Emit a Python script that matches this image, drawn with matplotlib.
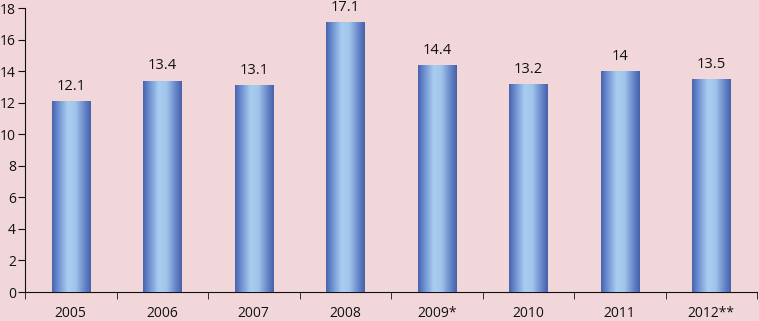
import numpy as np
import matplotlib
matplotlib.use("Agg")
import matplotlib.pyplot as plt
from matplotlib.colors import LinearSegmentedColormap

# data
years = ["2005", "2006", "2007", "2008", "2009*", "2010", "2011", "2012**"]
values = [12.1, 13.4, 13.1, 17.1, 14.4, 13.2, 14, 13.5]
labels = ["12.1", "13.4", "13.1", "17.1", "14.4", "13.2", "14", "13.5"]

bg = "#f1d7d9"
plt.rcParams["font.family"] = ["Open Sans", "DejaVu Sans"]

fig = plt.figure(figsize=(7.59, 3.21), dpi=100, facecolor=bg)
ax = fig.add_axes([25 / 759, 29 / 321, 732 / 759, 284 / 321], facecolor=bg)

x = np.arange(len(years))
bars = ax.bar(x, values, width=0.42, color="none", edgecolor="none", zorder=2)

# cylinder-ish horizontal gradient on each bar
cmap = LinearSegmentedColormap.from_list(
    "cyl", [(0, "#4862ab"), (0.15, "#6a8dcf"), (0.4, "#a9cdef"),
            (0.6, "#a2c6eb"), (0.85, "#6383c7"), (1, "#4660a8")])
grad = np.linspace(0, 1, 256).reshape(1, -1)
for b in bars:
    x0, w, h = b.get_x(), b.get_width(), b.get_height()
    im = ax.imshow(grad, cmap=cmap, aspect="auto", extent=[x0, x0 + w, 0, h],
                   zorder=3, interpolation="bicubic")
    im.set_clip_path(b)

for xi, v, lab in zip(x, values, labels):
    ax.text(xi, v + 0.45, lab, ha="center", va="bottom", fontsize=10.5, color="#111111")

ax.set_xlim(-0.5, len(years) - 0.5)
ax.set_ylim(0, 18)
ax.set_yticks(range(0, 19, 2))
ax.set_xticks(x)
ax.set_xticklabels(years, fontsize=10, color="#111111")
ax.set_xticks(np.arange(-0.5, len(years)), minor=True)
ax.tick_params(axis="x", which="major", length=0, pad=10)
ax.tick_params(axis="x", which="minor", length=5, direction="out", color="#111111")
ax.tick_params(axis="y", length=5, direction="out", pad=1.5, labelsize=10,
               color="#111111", labelcolor="#111111")

for s in ["top", "right"]:
    ax.spines[s].set_visible(False)
ax.spines["left"].set_color("#111111")
ax.spines["bottom"].set_color("#111111")

fig.savefig("out.png", dpi=100, facecolor=bg)
